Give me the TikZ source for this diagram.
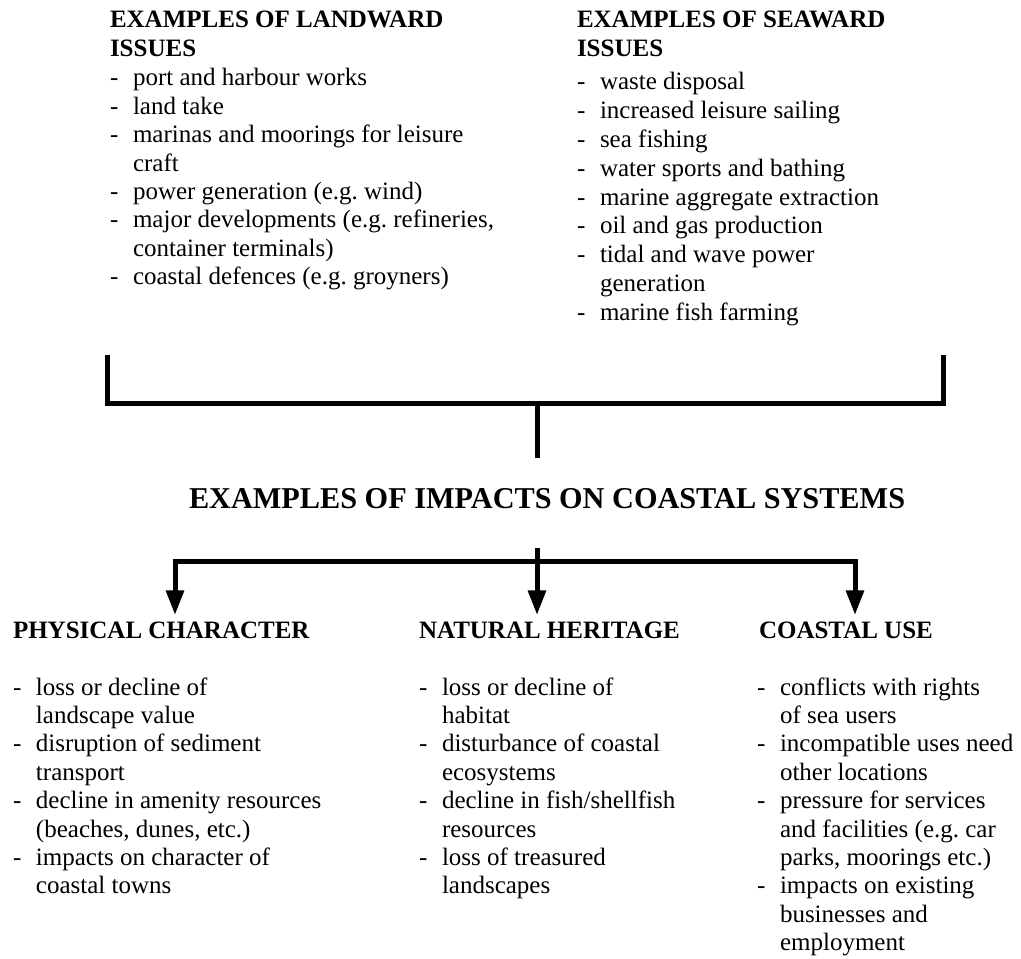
\documentclass[tikz,border=0pt]{standalone}
\usepackage{fontspec}
\setmainfont{Liberation Serif}
\usetikzlibrary{arrows.meta}
\frenchspacing
\tikzset{
  px/.style={x=0.75pt,y=-0.75pt},
  txt/.style={anchor=base west, inner sep=0pt, outer sep=0pt, font=\fontsize{18.75}{22}\selectfont},
  hd/.style={txt, font=\bfseries\fontsize{18.75}{22}\selectfont},
  ttl/.style={txt, font=\bfseries\fontsize{22.7}{26}\selectfont},
  bar/.style={line width=3.75pt, line join=miter, line cap=rect},
  arr/.style={line width=3.75pt, -{Triangle[width=13pt,length=18.5pt]}}
}
\newcommand\itemlist[5]{% prefix, dash x, baseline y0, step, list d/text
  \foreach \d/\t [count=\i from 0] in {#5}{%
    \ifnum\d=1 \node[txt] (#1d\i) at (#2,#3+\i*#4) {-};\fi
    \node[txt] (#1\i) at (#2+23,#3+\i*#4) {\t};
  }%
}
\begin{document}
\begin{tikzpicture}[px]
\useasboundingbox (0,0) rectangle (1021,959);
\fill[white] (0,0) rectangle (1021,959);
% top headers
\node[hd] (lh1) at (110,28) {EXAMPLES OF LANDWARD};
\node[hd] (lh2) at (110,57) {ISSUES};
\node[hd] (sh1) at (577,28) {EXAMPLES OF SEAWARD};
\node[hd] (sh2) at (577,57) {ISSUES};
\itemlist{L}{110}{86}{28.4}{1/port and harbour works,1/land take,1/marinas and moorings for leisure,0/craft,1/power generation (e.g. wind),1/{major developments (e.g. refineries,},0/container terminals),1/coastal defences (e.g. groyners)}
\itemlist{S}{577}{90}{28.8}{1/waste disposal,1/increased leisure sailing,1/sea fishing,1/water sports and bathing,1/marine aggregate extraction,1/oil and gas production,1/tidal and wave power,0/generation,1/marine fish farming}
% bracket
\coordinate (blt) at (107,357);
\coordinate (blb) at (107,403);
\coordinate (brb) at (943,403);
\coordinate (brt) at (943,357);
\coordinate (stemtop) at (537,403);
\coordinate (stembot) at (537,458);
\draw[bar] (blt) -- (blb) -- (brb) -- (brt);
\draw[bar, line cap=butt] (stemtop) -- (stembot);
% title
\node[ttl] (title) at (189,508) {EXAMPLES OF IMPACTS ON COASTAL SYSTEMS};
% arrows
\coordinate (atop) at (537,548);
\coordinate (hl) at (175,561);
\coordinate (hr) at (855,561);
\coordinate (tl) at (175,615);
\coordinate (tm) at (537,615);
\coordinate (tr) at (855,615);
\draw[bar] (hl) -- (hr);
\draw[arr] (hl) -- (tl);
\draw[arr] (hr) -- (tr);
\draw[arr] (atop) -- (tm);
% bottom headers
\node[hd] (ph) at (13,638) {PHYSICAL CHARACTER};
\node[hd] (nh) at (419,638) {NATURAL HERITAGE};
\node[hd] (ch) at (759,638) {COASTAL USE};
\itemlist{P}{13}{695}{28.4}{1/loss or decline of,0/landscape value,1/disruption of sediment,0/transport,1/decline in amenity resources,0/{(beaches, dunes, etc.)},1/impacts on character of,0/coastal towns}
\itemlist{N}{419}{695}{28.4}{1/loss or decline of,0/habitat,1/disturbance of coastal,0/ecosystems,1/{decline in fish/shellfish},0/resources,1/loss of treasured,0/landscapes}
\itemlist{C}{757}{695}{28.4}{1/conflicts with rights,0/of sea users,1/incompatible uses need,0/other locations,1/pressure for services,0/and facilities (e.g. car,0/{parks, moorings etc.)},1/impacts on existing,0/businesses and,0/employment}
\end{tikzpicture}
\end{document}
